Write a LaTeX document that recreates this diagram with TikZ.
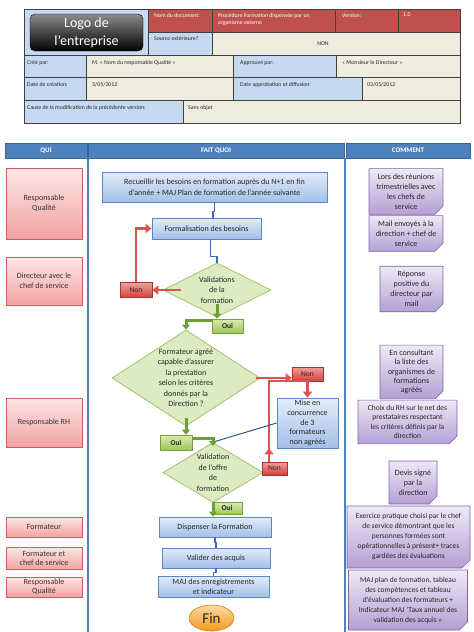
\documentclass[tikz,border=0pt]{standalone}
\usepackage{fontspec}
\setmainfont{Carlito}
\usepackage{tikz}
\usetikzlibrary{shapes, arrows.meta, positioning}

\definecolor{hdrred}{HTML}{C0504D}
\definecolor{hdrblue}{HTML}{C6D9F1}
\definecolor{hdrbeige}{HTML}{EEEDE0}
\definecolor{hdrline}{HTML}{404040}
\definecolor{lanebl}{HTML}{4F81BD}
\definecolor{lanedk}{HTML}{3A639A}
\definecolor{whotop}{HTML}{FDE6E6}
\definecolor{whobot}{HTML}{F1A3A1}
\definecolor{whoedge}{HTML}{C9605C}
\definecolor{proctop}{HTML}{E3ECF9}
\definecolor{procbot}{HTML}{A3BFE8}
\definecolor{procedge}{HTML}{5B87C7}
\definecolor{decfill}{HTML}{DDEBC2}
\definecolor{decedge}{HTML}{A2C16A}
\definecolor{ouitop}{HTML}{DCECB0}
\definecolor{ouibot}{HTML}{9CC65A}
\definecolor{ouiedge}{HTML}{7A9E3E}
\definecolor{nontop}{HTML}{F2A09C}
\definecolor{nonbot}{HTML}{D2403B}
\definecolor{nonedge}{HTML}{A8322E}
\definecolor{notetop}{HTML}{EEE8F6}
\definecolor{notebot}{HTML}{B3A0D4}
\definecolor{noteedge}{HTML}{8063A8}
\definecolor{fintop}{HTML}{FDD9A0}
\definecolor{finbot}{HTML}{F29A1F}
\definecolor{finedge}{HTML}{D9780F}
\definecolor{flowbl}{HTML}{3D6DB5}
\definecolor{ouiarr}{HTML}{6E9F34}
\definecolor{nonarr}{HTML}{D9534F}

\tikzstyle{cellred} = [draw=hdrline, fill=hdrred, line width=0.5pt]
\tikzstyle{cellblue} = [draw=hdrline, fill=hdrblue, line width=0.5pt]
\tikzstyle{cellbeige} = [draw=hdrline, fill=hdrbeige, line width=0.5pt]
\tikzstyle{ctext} = [anchor=north west, inner sep=0pt, align=left, text=black!85, font=\fontsize{5.8}{7}\selectfont]
\tikzstyle{ctextw} = [ctext, text=white]
\tikzstyle{lane} = [rectangle, draw=lanedk, fill=lanebl, text=white, inner sep=0pt, minimum height=15pt, font=\fontsize{7}{8}\selectfont\bfseries]
\tikzstyle{who} = [rectangle, draw=whoedge, line width=0.8pt, top color=whotop, bottom color=whobot, align=center, inner sep=1pt, minimum width=76pt, text=black!80, font=\fontsize{8}{10}\selectfont]
\tikzstyle{proc} = [rectangle, draw=procedge, line width=0.8pt, top color=proctop, bottom color=procbot, align=center, inner sep=1pt, text=black!85, font=\fontsize{8}{10.5}\selectfont]
\tikzstyle{dec} = [diamond, draw=decedge, line width=0.8pt, fill=decfill, inner sep=0pt]
\tikzstyle{dectext} = [inner sep=0pt, align=center, text=black!85, font=\fontsize{8}{10.5}\selectfont]
\tikzstyle{oui} = [rectangle, draw=ouiedge, line width=0.6pt, top color=ouitop, bottom color=ouibot, inner sep=0pt, text=black!85, font=\fontsize{7.5}{9}\selectfont\bfseries]
\tikzstyle{non} = [rectangle, draw=nonedge, line width=0.6pt, top color=nontop, bottom color=nonbot, inner sep=0pt, text=black!85, font=\fontsize{7.5}{9}\selectfont]
\tikzstyle{notebox} = [chamfered rectangle, chamfered rectangle corners=south east, chamfered rectangle xsep=4pt, chamfered rectangle ysep=4pt, draw=noteedge, line width=0.6pt, top color=notetop, bottom color=notebot, align=center, inner sep=1pt, text=black!85, font=\fontsize{8}{10}\selectfont]
\tikzstyle{flowline} = [draw=flowbl, line width=1.6pt]
\tikzstyle{ouiline} = [draw=ouiarr, line width=3pt, -{Triangle[length=5pt,width=8pt]}]
\tikzstyle{nonline} = [draw=nonarr, line width=2.4pt, -{Triangle[length=6pt,width=9pt]}]
\tikzstyle{nonplain} = [draw=nonarr, line width=2pt]
\tikzstyle{linkline} = [draw=flowbl!80!black, line width=1pt]

\begin{document}
\begin{tikzpicture}[x=1pt, y=-1pt]
\useasboundingbox (0,0) rectangle (474,632);

% en-tete du document
\path[cellblue] (24,9) rectangle (148,55);
\node[rounded corners=5pt, draw=black, top color=black!45, bottom color=black, minimum width=113pt, minimum height=37pt, text=white, align=center, font=\fontsize{14}{18}\selectfont] (logo) at (86.5,32.5) {Logo de\\l’entreprise};
\path[cellred] (148,9) rectangle (212,32);
\path[cellred] (212,9) rectangle (335,32);
\path[cellred] (335,9) rectangle (398,32);
\path[cellred] (398,9) rectangle (460,32);
\path[cellblue] (148,32) rectangle (212,55);
\path[cellbeige] (212,32) rectangle (460,55);
\path[cellblue] (24,55) rectangle (86,77);
\path[cellbeige] (86,55) rectangle (233,77);
\path[cellblue] (233,55) rectangle (336,77);
\path[cellbeige] (336,55) rectangle (460,77);
\path[cellblue] (24,77) rectangle (86,100);
\path[cellbeige] (86,77) rectangle (233,100);
\path[cellblue] (233,77) rectangle (362,100);
\path[cellbeige] (362,77) rectangle (460,100);
\path[cellblue] (24,100) rectangle (183,123);
\path[cellbeige] (183,100) rectangle (460,123);
\draw[hdrline, line width=1pt] (24,9) rectangle (460,123);

\node[ctextw] (t-nom) at (154,13) {Nom du document:};
\node[ctextw] (t-proc) at (218,13) {Procédure  Formation dispensée par un\\organisme externe};
\node[ctextw] (t-vers) at (342,13) {Version:};
\node[ctextw] (t-num) at (403,13) {1.0};
\node[ctext] (t-src) at (154,36) {Source extérieure?};
\node[ctext, anchor=center] (t-non) at (323,44) {NON};
\node[ctext] (t-cree) at (27,60) {Créé par:};
\node[ctext] (t-resp) at (92,60) {M. « Nom du responsable Qualité »};
\node[ctext] (t-appr) at (240,60) {Approuvé par:};
\node[ctext] (t-dir) at (342,60) {« Monsieur le Directeur »};
\node[ctext] (t-dcre) at (27,82) {Date de création:};
\node[ctext] (t-date1) at (92,82) {3/05/2012};
\node[ctext] (t-dapp) at (240,82) {Date approbation et diffusion:};
\node[ctext] (t-date2) at (367,82) {03/05/2012};
\node[ctext] (t-cause) at (27,105) {Cause de la modification de la précédente version:};
\node[ctext] (t-sans) at (188,105) {Sans objet};

% colonnes
\node[lane, minimum width=82pt] (qui) at (46,150.5) {QUI};
\node[lane, minimum width=256pt] (quoi) at (216,150.5) {FAIT QUOI};
\node[lane, minimum width=124pt] (comment) at (408,150.5) {COMMENT};
\draw[lanebl, line width=1.5pt] (88,158) -- (88,632);
\draw[lanebl, line width=1.5pt] (345,158) -- (345,632);

% qui
\node[who, minimum height=71pt] (rq1) at (44,203.5) {Responsable\\Qualité};
\node[who, minimum height=48pt] (dir) at (44,281) {Directeur avec le\\chef de service};
\node[who, minimum height=49pt] (rh) at (44,422.5) {Responsable RH};
\node[who, minimum height=20pt] (form) at (44,527) {Formateur};
\node[who, minimum height=22pt, font=\fontsize{8}{9}\selectfont] (formchef) at (44,558) {Formateur et\\chef de service};
\node[who, minimum height=20pt, font=\fontsize{8}{9}\selectfont] (rq2) at (44,587) {Responsable\\Qualité};

% fait quoi
\node[proc, minimum width=225pt, minimum height=30pt] (recueil) at (214.5,187) {Recueillir les besoins en formation auprès du N+1 en fin\\d’année + MAJ Plan de formation de l’année suivante};
\node[proc, minimum width=109pt, minimum height=21pt] (formal) at (206.5,228.5) {Formalisation des besoins};
\node[dec, minimum width=108pt, minimum height=54pt, label={[dectext]center:{Validations\\de la\\formation}}] (valid1) at (217,290) {};
\node[oui, minimum width=31pt, minimum height=14pt] (oui1) at (227.5,326) {Oui};
\node[non, minimum width=32pt, minimum height=15pt] (non1) at (136,290) {Non};
\node[dec, minimum width=148pt, minimum height=96pt, label={[dectext]center:{Formateur agréé\\capable d’assurer\\la prestation\\selon les critères\\donnés par la\\Direction ?}}] (valid2) at (186,378) {};
\node[non, minimum width=31pt, minimum height=14pt] (non2) at (307.5,374) {Non};
\node[proc, minimum width=61pt, minimum height=50pt, font=\fontsize{8}{9.8}\selectfont] (mise) at (307.5,423) {Mise en\\concurrence\\de 3\\formateurs\\non agréés};
\node[oui, minimum width=32pt, minimum height=15pt] (oui2) at (176,442.5) {Oui};
\node[dec, minimum width=100pt, minimum height=60pt, label={[dectext]center:{Validation\\de l’offre\\de\\formation}}] (valid3) at (213,472.5) {};
\node[non, minimum width=25pt, minimum height=13pt] (non3) at (274.5,468.5) {Non};
\node[oui, minimum width=30pt, minimum height=12pt] (oui3) at (227,508) {Oui};
\node[proc, minimum width=112pt, minimum height=20pt] (disp) at (215,527) {Dispenser la Formation};
\node[proc, minimum width=108pt, minimum height=20pt] (valacq) at (216,558) {Valider des acquis};
\node[proc, minimum width=111pt, minimum height=21pt, font=\fontsize{8}{9.5}\selectfont] (maj) at (213.5,586.5) {MAJ des enregistrements\\et indicateur};
\node[ellipse, draw=finedge, line width=0.6pt, top color=fintop, bottom color=finbot, minimum width=45pt, minimum height=26pt, inner sep=0pt, text=black!85, font=\fontsize{15}{18}\selectfont] (fin) at (211.5,618) {Fin};

\path[flowline] (recueil.south) -- ++(0,9) -| ([xshift=6.5pt]formal.north);
\path[flowline] ([xshift=4pt]formal.south) -- ++(0,17) -| (valid1.north);
\path[ouiline] ([yshift=13pt]valid1.south) -- (valid1.south |- oui1.north);
\path[ouiline] ([yshift=-2pt]oui1.north west) -| (valid2.north);
\path[nonline] ([xshift=18pt]valid1.west) -- (non1.east);
\path[nonline] (non1.north) |- (formal.west);
\path[nonline] ([xshift=-4pt]valid2.east) -- (valid2.east -| non2.west);
\path[nonplain] ([xshift=-5.5pt]non3.north) |- (non2.south);
\path[nonline] ([xshift=-5.5pt]non3.north) -- ([xshift=-5.5pt]non3.north |- mise.south);
\path[nonline] (non2.south) -- (mise.north);
\path[ouiline] ([yshift=8pt]valid2.south) -- (valid2.south |- oui2.north);
\path[linkline] (mise.west) -- (valid3.north);
\path[ouiline] ([yshift=4pt]oui2.east) -| ([yshift=-4pt]valid3.north);
\path[ouiline] (valid3.south) -- (valid3.south |- disp.north);
\path[flowline] (disp.south) -- ++(0,5) -| (valacq.north);
\path[flowline] (valacq.south) -- ++(0,4) -| (maj.north);

% comment
\node[notebox, minimum width=74pt, minimum height=41pt] (n1) at (406,191.5) {Lors des réunions\\trimestrielles avec\\les chefs de\\service};
\node[notebox, minimum width=74pt, minimum height=33pt] (n2) at (406,233.5) {Mail envoyés à la\\direction + chef de\\service};
\node[notebox, minimum width=63pt, minimum height=44pt] (n3) at (411.5,289) {Réponse\\positive du\\directeur par\\mail};
\node[notebox, minimum width=63pt, minimum height=46pt, font=\fontsize{8}{9.2}\selectfont] (n4) at (411.5,372) {En consultant\\la liste des\\organismes de\\formations\\agréés};
\node[notebox, minimum width=99pt, minimum height=40pt, font=\fontsize{7.5}{9.5}\selectfont] (n5) at (407.5,422) {Choix du RH sur le net des\\prestataires respectant\\les critères définis par la\\direction};
\node[notebox, minimum width=48pt, minimum height=43pt] (n6) at (413,482.5) {Devis signé\\par la\\direction};
\node[notebox, minimum width=123pt, minimum height=62pt, font=\fontsize{7.5}{10}\selectfont] (n7) at (408.5,537) {Exercice pratique choisi par le chef\\de service démontrant que les\\personnes formées sont\\opérationnelles à présent+ traces\\gardées des évaluations};
\node[notebox, minimum width=119pt, minimum height=60pt, font=\fontsize{7.5}{10}\selectfont] (n8) at (408,600) {MAJ plan de formation, tableau\\des compétences et tableau\\d’évaluation des formateurs +\\Indicateur MAJ ‘Taux annuel des\\validation des acquis »};
\end{tikzpicture}
\end{document}
